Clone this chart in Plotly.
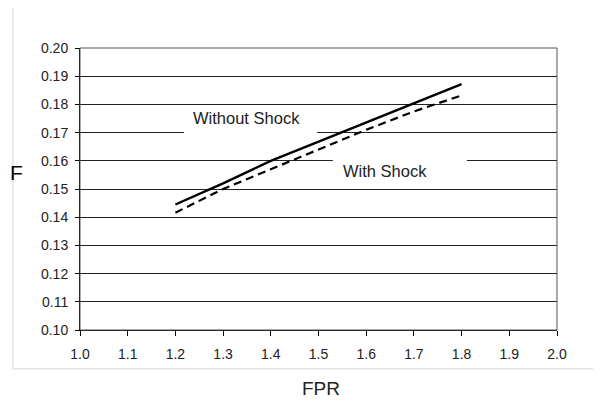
import plotly.graph_objects as go

fpr = [1.2, 1.3, 1.4, 1.5, 1.6, 1.7, 1.8]
f_without = [0.1445, 0.1520, 0.1600, 0.1668, 0.1735, 0.1805, 0.1872]
f_with = [0.1416, 0.1500, 0.1570, 0.1640, 0.1710, 0.1775, 0.1832]

x_ticks = [1.0, 1.1, 1.2, 1.3, 1.4, 1.5, 1.6, 1.7, 1.8, 1.9, 2.0]
x_tick_labels = ["1.0", "1.1", "1.2", "1.3", "1.4", "1.5", "1.6", "1.7", "1.8", "1.9", "2.0"]
y_ticks = [0.10, 0.11, 0.12, 0.13, 0.14, 0.15, 0.16, 0.17, 0.18, 0.19, 0.20]
y_tick_labels = ["0.10", "0.11", "0.12", "0.13", "0.14", "0.15", "0.16", "0.17", "0.18", "0.19", "0.20"]

font_family = "Liberation Sans, Arial, sans-serif"

fig = go.Figure()
fig.add_trace(go.Scatter(x=fpr, y=f_without, mode="lines", name="Without Shock",
                         line=dict(color="black", width=2.4)))
fig.add_trace(go.Scatter(x=fpr, y=f_with, mode="lines", name="With Shock",
                         line=dict(color="black", width=2.2, dash="8px,5px")))

# white boxes behind labels (hide gridlines)
fig.add_shape(type="rect", xref="x", yref="y", x0=1.218, x1=1.497, y0=0.1685, y1=0.1795,
              fillcolor="white", line=dict(width=0), layer="between")
fig.add_shape(type="rect", xref="x", yref="y", x0=1.530, x1=1.811, y0=0.1535, y1=0.1620,
              fillcolor="white", line=dict(width=0), layer="between")

fig.add_annotation(x=1.35, y=0.1751, xref="x", yref="y", text="Without Shock", showarrow=False,
                   font=dict(family=font_family, size=16.5, color="#222"))
fig.add_annotation(x=1.64, y=0.1563, xref="x", yref="y", text="With Shock", showarrow=False,
                   font=dict(family=font_family, size=16.5, color="#222"))

# axis titles
fig.add_annotation(x=-0.151, y=0.56, xref="paper", yref="paper", text="F", showarrow=False,
                   font=dict(family=font_family, size=21, color="black"))
fig.add_annotation(x=0.506, y=-0.25, xref="paper", yref="paper", text="FPR", showarrow=False,
                   font=dict(family=font_family, size=19, color="#222"))

# plot border (top/right)
fig.add_shape(type="rect", xref="paper", yref="paper", x0=0, x1=1, y0=0, y1=1,
              line=dict(color="#555", width=1), layer="above")
# outer light gray chart frame
fig.add_shape(type="rect", xref="paper", yref="paper", x0=-0.1405, x1=1.3, y0=-0.138, y1=1.3,
              line=dict(color="#d4d4d4", width=1), layer="below")

fig.update_layout(
    width=593, height=399,
    margin=dict(l=72, r=44, t=40, b=77),
    paper_bgcolor="white", plot_bgcolor="white",
    showlegend=False,
    font=dict(family=font_family, size=14, color="#222"),
)
fig.update_xaxes(range=[1.0, 2.0], tickvals=x_ticks, ticktext=x_tick_labels,
                 showgrid=False, zeroline=False, showline=True, linecolor="black", linewidth=1,
                 ticks="outside", ticklen=5, tickcolor="black", tickfont=dict(size=14),
                 ticklabelstandoff=6)
fig.update_yaxes(range=[0.10, 0.20], tickvals=y_ticks, ticktext=y_tick_labels,
                 showgrid=True, gridcolor="#222", gridwidth=1, zeroline=False,
                 showline=True, linecolor="black", linewidth=1,
                 ticks="outside", ticklen=4, tickcolor="black", tickfont=dict(size=14),
                 ticklabelstandoff=4)

fig.write_html("out.html")
